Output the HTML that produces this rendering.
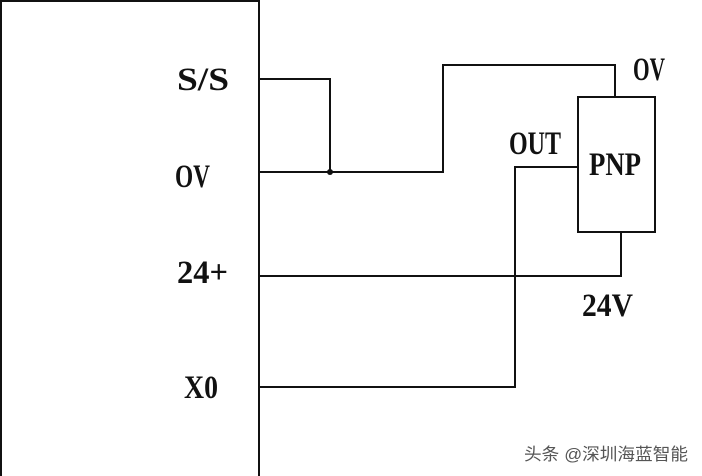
<!DOCTYPE html>
<html><head><style>
html,body{margin:0;padding:0;background:#fff;}
</style></head><body>
<svg width="702" height="476" xmlns="http://www.w3.org/2000/svg" style="display:block">
<rect width="702" height="476" fill="#fff"/>
<g stroke="#111" stroke-width="2" fill="none">
<polyline points="1,476 1,1 259,1 259,476"/>
<polyline points="259,79 330,79 330,172"/>
<polyline points="259,172 443,172 443,65 615,65 615,97"/>
<rect x="578" y="97" width="77" height="135"/>
<polyline points="578,167 515,167 515,387 259,387"/>
<polyline points="259,276 621,276 621,232"/>
</g>
<circle cx="330" cy="172" r="3" fill="#111"/>
<g font-family="Liberation Serif, serif" font-weight="bold" font-size="33" fill="#111">
<text x="177" y="90" textLength="52" lengthAdjust="spacingAndGlyphs">S/S</text>
<text x="175" y="187" textLength="35" lengthAdjust="spacingAndGlyphs">OV</text>
<text x="177" y="283" textLength="51" lengthAdjust="spacingAndGlyphs">24+</text>
<text x="184" y="398" textLength="34" lengthAdjust="spacingAndGlyphs">X0</text>
<text x="509" y="154" textLength="52" lengthAdjust="spacingAndGlyphs">OUT</text>
<text x="589" y="175" textLength="52" lengthAdjust="spacingAndGlyphs">PNP</text>
<text x="633" y="80" textLength="32" lengthAdjust="spacingAndGlyphs">OV</text>
<text x="582" y="316" textLength="51" lengthAdjust="spacingAndGlyphs">24V</text>
</g>
<text x="524" y="460" textLength="164" lengthAdjust="spacingAndGlyphs" font-family="Liberation Sans, Noto Sans CJK SC, sans-serif" font-size="17" fill="#555">头条 @深圳海蓝智能</text>
</svg>
</body></html>
